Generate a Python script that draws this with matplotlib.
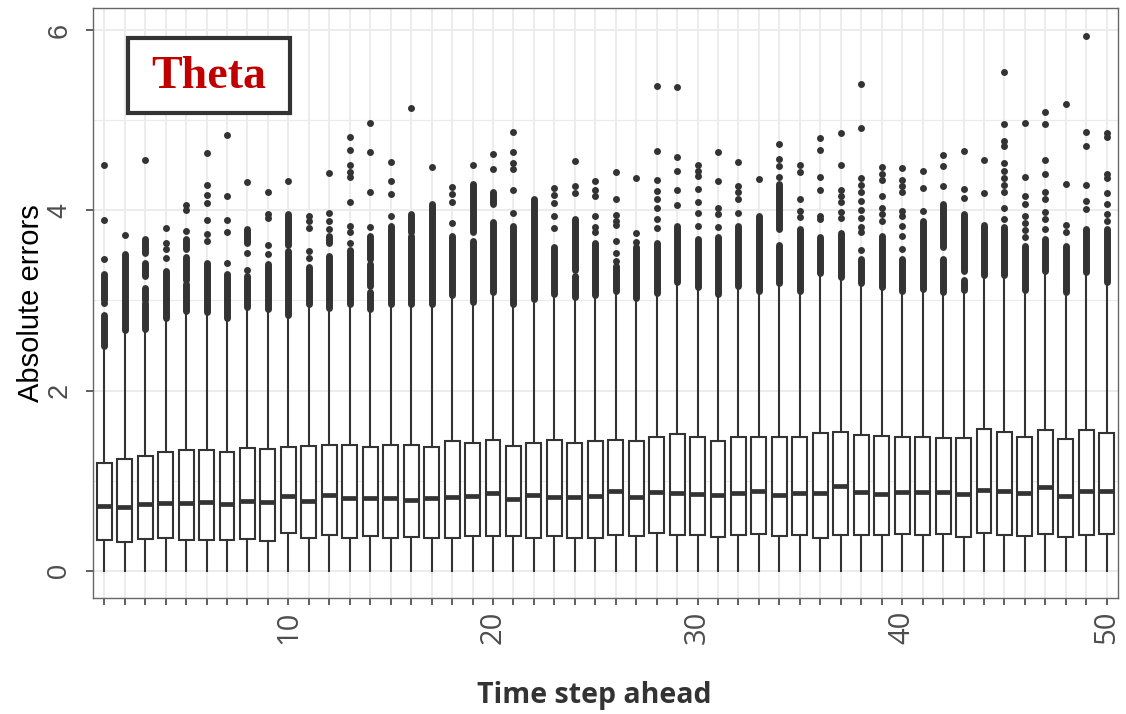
import matplotlib
matplotlib.use("Agg")
import matplotlib.pyplot as plt
from matplotlib.patches import Rectangle

# boxplot stats, one value per time step (1..50)
steps = list(range(1, 51))
q1 = [0.34, 0.32, 0.35, 0.36, 0.34, 0.34, 0.34, 0.35, 0.33, 0.42,
      0.37, 0.40, 0.37, 0.39, 0.37, 0.38, 0.36, 0.37, 0.39, 0.39,
      0.39, 0.37, 0.39, 0.37, 0.37, 0.40, 0.39, 0.42, 0.40, 0.40,
      0.38, 0.40, 0.41, 0.39, 0.40, 0.37, 0.40, 0.40, 0.40, 0.41,
      0.40, 0.41, 0.38, 0.42, 0.40, 0.39, 0.41, 0.38, 0.40, 0.41]
med = [0.72, 0.71, 0.74, 0.75, 0.75, 0.76, 0.74, 0.78, 0.76, 0.83,
       0.78, 0.84, 0.81, 0.81, 0.81, 0.79, 0.81, 0.82, 0.83, 0.86,
       0.80, 0.84, 0.82, 0.82, 0.83, 0.89, 0.82, 0.88, 0.86, 0.85,
       0.84, 0.86, 0.89, 0.84, 0.86, 0.86, 0.94, 0.87, 0.85, 0.87,
       0.87, 0.87, 0.85, 0.90, 0.89, 0.86, 0.93, 0.83, 0.89, 0.89]
q3 = [1.20, 1.24, 1.27, 1.32, 1.34, 1.34, 1.32, 1.36, 1.35, 1.38,
      1.39, 1.40, 1.40, 1.38, 1.40, 1.40, 1.37, 1.44, 1.42, 1.45,
      1.39, 1.42, 1.45, 1.42, 1.44, 1.45, 1.44, 1.48, 1.52, 1.48,
      1.44, 1.49, 1.49, 1.49, 1.48, 1.53, 1.54, 1.51, 1.50, 1.48,
      1.49, 1.47, 1.47, 1.57, 1.54, 1.48, 1.56, 1.46, 1.56, 1.53]
whis_lo = [0.0] * 50
whis_hi = [2.45, 2.65, 2.67, 2.80, 2.86, 2.86, 2.80, 2.92, 2.89, 2.82,
           2.95, 2.90, 2.94, 2.88, 2.95, 2.95, 2.94, 3.04, 2.96, 3.07,
           2.92, 3.00, 3.05, 3.02, 3.04, 3.07, 3.01, 3.06, 3.18, 3.13,
           3.04, 3.14, 3.09, 3.17, 3.08, 3.27, 3.24, 3.17, 3.13, 3.07,
           3.11, 3.06, 3.11, 3.26, 3.25, 3.09, 3.30, 3.07, 3.30, 3.18]

# single outliers that stand apart
outliers = [
    [4.50, 3.89, 3.46, 2.97],
    [3.73],
    [4.56],
    [3.80, 3.64, 3.57, 3.47],
    [4.06, 4.00, 3.77],
    [4.64, 4.28, 4.17, 4.08, 3.89, 3.74, 3.66],
    [4.83, 4.16, 3.89, 3.76, 3.42],
    [4.31, 3.53, 3.34],
    [4.20, 3.96, 3.91, 3.62, 3.51],
    [4.32],
    [3.94, 3.88, 3.80, 3.55, 3.47],
    [4.41, 3.97, 3.88, 3.79],
    [4.81, 4.67, 4.50, 4.43, 4.37, 4.09, 3.83, 3.76, 3.64],
    [4.97, 4.65, 4.20, 3.81],
    [4.54, 4.33, 4.18, 3.94],
    [5.13],
    [4.48],
    [4.26, 4.18, 4.09, 3.86],
    [4.50],
    [4.62, 4.46],
    [4.87, 4.65, 4.52, 4.46, 4.23, 3.97],
    [],
    [4.25, 4.17, 4.08, 3.94, 3.80],
    [4.55, 4.27, 4.19],
    [4.33, 4.22, 4.16, 3.94, 3.82, 3.76],
    [4.43, 4.12, 3.95, 3.88, 3.84, 3.66, 3.53, 3.44],
    [4.36, 3.75, 3.65],
    [5.38, 4.66, 4.34, 4.21, 4.12, 4.03, 3.90, 3.80],
    [5.37, 4.59, 4.44, 4.23, 4.06],
    [4.50, 4.44, 4.38, 4.24, 4.09, 3.97, 3.83],
    [4.65, 4.33, 4.03, 3.96, 3.81],
    [4.54, 4.27, 4.20, 4.13, 3.97],
    [4.35],
    [4.74, 4.57, 4.49, 4.37],
    [4.50, 4.42, 4.13, 3.99, 3.93],
    [4.80, 4.67, 4.37, 4.23, 3.94, 3.90],
    [4.86, 4.50, 4.22, 4.16, 4.09, 3.98, 3.91],
    [5.40, 4.91, 4.36, 4.28, 4.20, 4.10, 4.00, 3.92, 3.82, 3.76, 3.56],
    [4.48, 4.40, 4.34, 4.16, 4.03, 3.96, 3.88],
    [4.47, 4.34, 4.27, 4.20, 3.99, 3.94, 3.83, 3.71, 3.57],
    [4.44, 4.25, 3.99],
    [4.61, 4.49, 4.27],
    [4.66, 4.24, 4.14],
    [4.56, 4.19],
    [5.53, 4.96, 4.77, 4.71, 4.53, 4.44, 4.36, 4.28, 4.20, 4.03, 3.90],
    [4.97, 4.37, 4.16, 4.07, 3.94, 3.86, 3.78, 3.70],
    [5.09, 4.96, 4.56, 4.40, 4.20, 4.13, 3.98, 3.90, 3.79],
    [5.18, 4.29, 3.84, 3.76],
    [5.93, 4.87, 4.71, 4.28, 4.10, 4.01],
    [4.86, 4.81, 4.40, 4.36, 4.19, 4.07, 3.96, 3.88],
]

# stretches where outlier dots pile up into a solid column (low, high)
outlier_runs = [
    [(3.00, 3.29), (2.49, 2.84)],
    [(2.67, 3.51)],
    [(3.53, 3.68), (3.27, 3.42), (3.01, 3.14), (2.68, 2.97)],
    [(2.81, 3.33)],
    [(3.57, 3.68), (3.23, 3.48), (2.88, 3.18)],
    [(2.87, 3.42)],
    [(2.81, 3.29)],
    [(3.64, 3.79), (2.93, 3.27)],
    [(2.91, 3.40)],
    [(3.62, 3.96), (2.84, 3.55)],
    [(2.96, 3.37)],
    [(3.64, 3.72), (2.92, 3.49)],
    [(2.96, 3.56)],
    [(3.46, 3.71), (3.16, 3.40), (2.90, 3.09)],
    [(2.96, 3.83)],
    [(3.76, 3.96), (2.96, 3.71)],
    [(2.96, 4.07)],
    [(3.06, 3.71)],
    [(3.76, 4.29), (2.98, 3.66)],
    [(4.07, 4.20), (3.09, 3.87)],
    [(2.96, 3.83)],
    [(3.02, 4.12)],
    [(3.07, 3.59)],
    [(3.34, 3.90), (3.04, 3.27)],
    [(3.06, 3.64)],
    [(3.10, 3.38)],
    [(3.03, 3.59)],
    [(3.08, 3.64)],
    [(3.21, 3.83)],
    [(3.15, 3.68)],
    [(3.07, 3.70)],
    [(3.16, 3.83)],
    [(3.11, 3.94)],
    [(3.79, 4.29), (3.19, 3.62)],
    [(3.10, 3.79)],
    [(3.30, 3.70)],
    [(3.26, 3.75)],
    [(3.19, 3.46)],
    [(3.15, 3.71)],
    [(3.10, 3.46)],
    [(3.13, 3.88)],
    [(3.59, 4.07), (3.09, 3.46)],
    [(3.33, 3.96), (3.12, 3.23)],
    [(3.28, 3.84)],
    [(3.28, 3.81)],
    [(3.12, 3.60)],
    [(3.33, 3.68)],
    [(3.09, 3.60)],
    [(3.32, 3.79)],
    [(3.20, 3.79)],
]

dark = "#333333"
grid_col = "#EBEBEB"

fig = plt.figure(figsize=(11.26, 7.14), dpi=100)
ax = fig.add_axes([0.0826, 0.1625, 0.9103, 0.8263])

stats = []
for i, s in enumerate(steps):
    stats.append({"med": med[i], "q1": q1[i], "q3": q3[i],
                  "whislo": whis_lo[i], "whishi": whis_hi[i], "fliers": []})

ax.bxp(stats, positions=steps, widths=0.73, showcaps=False, showfliers=False,
       patch_artist=True,
       boxprops=dict(facecolor="white", edgecolor=dark, linewidth=1.5),
       whiskerprops=dict(color=dark, linewidth=1.5),
       medianprops=dict(color=dark, linewidth=3.4, solid_capstyle="butt"),
       zorder=3)

# outliers
for i, s in enumerate(steps):
    for lo, hi in outlier_runs[i]:
        ax.vlines(s, lo, hi, colors=dark, linewidth=5.0, capstyle="round", zorder=4)
    if outliers[i]:
        ax.plot([s] * len(outliers[i]), outliers[i], "o", color=dark,
                markersize=5.0, markeredgewidth=0, zorder=4)

ax.set_xlim(0.45, 50.55)
ax.set_ylim(-0.30, 6.244)

ax.set_xticks(steps)
ax.set_xticklabels([str(s) if s % 10 == 0 else "" for s in steps],
                   rotation=90, fontsize=21, color="#4D4D4D", family="Open Sans")
ax.set_yticks([0, 2, 4, 6])
ax.set_yticklabels(["0", "2", "4", "6"], rotation=90, va="center",
                   fontsize=19.5, color="#4D4D4D", family="Liberation Sans")
ax.set_yticks([1, 3, 5], minor=True)
ax.tick_params(axis="both", which="major", length=5, width=1.1, color=dark, pad=4)
ax.tick_params(axis="y", which="major", pad=10)
ax.tick_params(axis="y", which="minor", length=0)

ax.grid(True, which="major", color=grid_col, linewidth=1.3, zorder=0)
ax.grid(True, which="minor", axis="y", color=grid_col, linewidth=0.8, zorder=0)
ax.set_axisbelow(True)
for sp in ax.spines.values():
    sp.set_color("#666666")
    sp.set_linewidth(1.0)

ax.set_ylabel("Absolute errors", fontsize=21, family="Liberation Sans")
ax.yaxis.set_label_coords(-0.0468, 0.5)
ax.set_xlabel("Time step ahead", fontsize=20.5, fontweight="bold", color="#333333",
              family="Open Sans")
ax.xaxis.set_label_coords(0.489, -0.166)
ax.xaxis.label.set_va("center")

# label box in the corner
ax.add_patch(Rectangle((0.0341, 0.8225), 0.158, 0.1266, transform=ax.transAxes,
                       facecolor="white", edgecolor=dark, linewidth=3, zorder=5))
ax.text(0.1132, 0.883, "Theta", transform=ax.transAxes, ha="center", va="center",
        fontsize=33, fontweight="bold", color="#C00000", family="Liberation Serif",
        zorder=6)

fig.savefig("out.png", dpi=100)
